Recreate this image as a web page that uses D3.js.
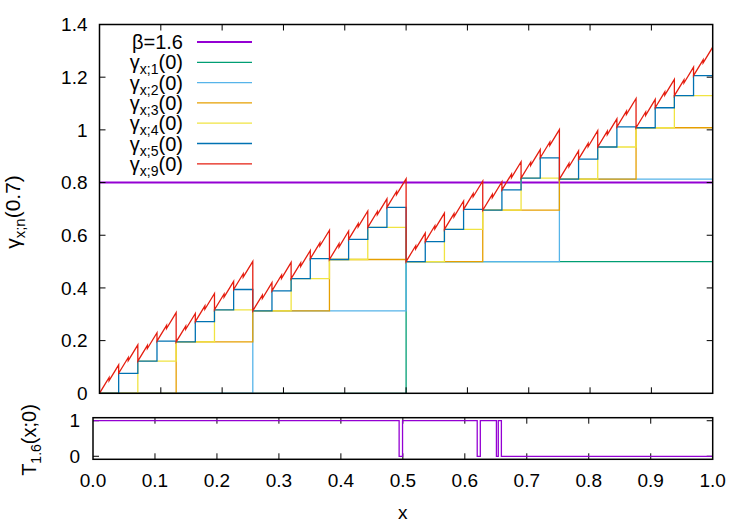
<!DOCTYPE html>
<html>
<head>
<meta charset="utf-8">
<script src="https://cdn.jsdelivr.net/npm/d3@7"></script>
<style>
  body { margin: 0; background: #fff; }
  text { font-family: "Liberation Sans", Arial, sans-serif; fill: #000; }
</style>
</head>
<body>
<svg id="chart" width="750" height="525"></svg>
<script>
const width = 750;
const height = 525;

// tick labels
const xTicks = [0, 0.1, 0.2, 0.3, 0.4, 0.5, 0.6, 0.7, 0.8, 0.9, 1.0];
const yTicksTop = [0, 0.2, 0.4, 0.6, 0.8, 1.0, 1.2, 1.4];
const yTicksBottom = [0, 1];

// horizontal reference line, beta = 1.6
const betaLevel = 0.8;

// step levels of the partial sums, one value per dyadic interval
const gamma1 = [0, 0.5];
const gamma2 = [0, 0.313, 0.5, 0.813];
const gamma3 = [0, 0.195, 0.313, 0.508, 0.5, 0.695, 0.813, 1.008];
const gamma4 = [0, 0.122, 0.195, 0.317, 0.313, 0.435, 0.508, 0.630,
  0.5, 0.622, 0.695, 0.817, 0.813, 0.935, 1.008, 1.130];
const gamma5 = [0, 0.076, 0.122, 0.198, 0.195, 0.272, 0.317, 0.394,
  0.313, 0.389, 0.435, 0.511, 0.508, 0.584, 0.630, 0.706,
  0.5, 0.576, 0.622, 0.698, 0.695, 0.772, 0.817, 0.894,
  0.813, 0.889, 0.935, 1.011, 1.008, 1.084, 1.130, 1.206];

// n = 9 curve, read per 1/64 interval: value at start and at end
const gamma9Start = [0.000, 0.048, 0.076, 0.124, 0.122, 0.170, 0.198, 0.246,
  0.195, 0.243, 0.272, 0.319, 0.317, 0.365, 0.394, 0.441,
  0.313, 0.360, 0.389, 0.436, 0.435, 0.482, 0.511, 0.559,
  0.508, 0.555, 0.584, 0.632, 0.630, 0.678, 0.706, 0.754,
  0.500, 0.548, 0.576, 0.624, 0.622, 0.670, 0.698, 0.746,
  0.695, 0.743, 0.772, 0.819, 0.817, 0.865, 0.894, 0.941,
  0.813, 0.860, 0.889, 0.936, 0.935, 0.982, 1.011, 1.059,
  1.008, 1.055, 1.084, 1.132, 1.130, 1.178, 1.206, 1.254];
const gamma9End = [0.060, 0.108, 0.136, 0.184, 0.182, 0.230, 0.258, 0.306,
  0.255, 0.303, 0.332, 0.379, 0.377, 0.425, 0.454, 0.501,
  0.373, 0.420, 0.449, 0.497, 0.495, 0.542, 0.571, 0.619,
  0.568, 0.616, 0.644, 0.692, 0.690, 0.738, 0.766, 0.814,
  0.560, 0.608, 0.636, 0.684, 0.682, 0.730, 0.758, 0.806,
  0.755, 0.803, 0.832, 0.879, 0.877, 0.925, 0.954, 1.001,
  0.873, 0.920, 0.949, 0.997, 0.995, 1.042, 1.071, 1.119,
  1.068, 1.116, 1.144, 1.192, 1.190, 1.238, 1.266, 1.314];

// T_1.6(x;0): switch points and values after each switch
const tBreaks = [0, 0.494, 0.4995, 0.620, 0.625, 0.651, 0.654, 0.659, 1.0];
const tValues = [1, 0, 1, 0, 1, 0, 1, 0, 0];

const colors = {
  beta: "#9400d3",
  g1: "#009e73",
  g2: "#56b4e9",
  g3: "#e69f00",
  g4: "#f0e442",
  g5: "#0072b2",
  g9: "#e51e10"
};

const svg = d3.select("#chart");

// top panel
const xTop = d3.scaleLinear().domain([0, 1]).range([99.5, 712.7]);
const yTop = d3.scaleLinear().domain([0, 1.4]).range([393.3, 24.5]);
// bottom panel
const xBot = d3.scaleLinear().domain([0, 1]).range([93, 712.7]);
const yBot = d3.scaleLinear().domain([-0.085, 1.085]).range([459.3, 417.7]);

function stairs(levels) {
  const n = levels.length;
  const pts = levels.map((v, i) => [i / n, v]);
  pts.push([1, levels[n - 1]]);
  return pts;
}

const stepLine = d3.line()
  .x(d => xTop(d[0]))
  .y(d => yTop(d[1]))
  .curve(d3.curveStepAfter);

svg.append("clipPath").attr("id", "clip-top")
  .append("rect")
  .attr("x", xTop(0)).attr("y", yTop(1.4))
  .attr("width", xTop(1) - xTop(0)).attr("height", yTop(0) - yTop(1.4));

const plot = svg.append("g").attr("clip-path", "url(#clip-top)");

plot.append("line")
  .attr("x1", xTop(0)).attr("x2", xTop(1))
  .attr("y1", yTop(betaLevel)).attr("y2", yTop(betaLevel))
  .attr("stroke", colors.beta)
  .attr("stroke-width", 2);

const stairSeries = [
  { key: "g1", data: gamma1 },
  { key: "g2", data: gamma2 },
  { key: "g3", data: gamma3 },
  { key: "g4", data: gamma4 },
  { key: "g5", data: gamma5 }
];

stairSeries.forEach(s => {
  plot.append("path")
    .attr("d", stepLine(stairs(s.data)))
    .attr("fill", "none")
    .attr("stroke", colors[s.key])
    .attr("stroke-width", 1.3);
});

const redPts = [];
gamma9Start.forEach((v, k) => {
  redPts.push([k / 64, v]);
  redPts.push([(k + 1) / 64, gamma9End[k]]);
});
plot.append("path")
  .attr("d", d3.line().x(d => xTop(d[0])).y(d => yTop(d[1]))(redPts))
  .attr("fill", "none")
  .attr("stroke", colors.g9)
  .attr("stroke-width", 1.3);

// top frame and ticks
svg.append("rect")
  .attr("x", xTop(0)).attr("y", yTop(1.4))
  .attr("width", xTop(1) - xTop(0)).attr("height", yTop(0) - yTop(1.4))
  .attr("fill", "none").attr("stroke", "#000").attr("stroke-width", 1.5);

const tickLen = 6;
const ticksG = svg.append("g").attr("stroke", "#000").attr("stroke-width", 1);
xTicks.slice(1, -1).forEach(t => {
  ticksG.append("line").attr("x1", xTop(t)).attr("x2", xTop(t))
    .attr("y1", yTop(0)).attr("y2", yTop(0) - tickLen);
  ticksG.append("line").attr("x1", xTop(t)).attr("x2", xTop(t))
    .attr("y1", yTop(1.4)).attr("y2", yTop(1.4) + tickLen);
});
yTicksTop.slice(1, -1).forEach(t => {
  ticksG.append("line").attr("x1", xTop(0)).attr("x2", xTop(0) + tickLen)
    .attr("y1", yTop(t)).attr("y2", yTop(t));
  ticksG.append("line").attr("x1", xTop(1)).attr("x2", xTop(1) - tickLen)
    .attr("y1", yTop(t)).attr("y2", yTop(t));
});

svg.append("g").selectAll("text")
  .data(yTicksTop)
  .join("text")
  .attr("x", xTop(0) - 12)
  .attr("y", d => yTop(d))
  .attr("dy", "0.35em")
  .attr("text-anchor", "end")
  .attr("font-size", 19)
  .text(d => d === 0 || d === 1 ? String(d) : d3.format(".1f")(d));

// legend
const legendRows = [
  { key: "beta", label: "β=1.6" },
  { key: "g1", sub: "x;1" },
  { key: "g2", sub: "x;2" },
  { key: "g3", sub: "x;3" },
  { key: "g4", sub: "x;4" },
  { key: "g5", sub: "x;5" },
  { key: "g9", sub: "x;9" }
];
const legend = svg.append("g");
legendRows.forEach((r, i) => {
  const y = 42 + i * 20.3;
  const t = legend.append("text")
    .attr("x", 183).attr("y", y).attr("dy", "0.35em")
    .attr("text-anchor", "end")
    .attr("font-size", 20);
  if (r.label) {
    t.text(r.label);
  } else {
    t.append("tspan").text("γ");
    t.append("tspan").attr("font-size", 14).attr("dy", 5).text(r.sub);
    t.append("tspan").attr("dy", -5).text("(0)");
  }
  legend.append("line")
    .attr("x1", 197).attr("x2", 252)
    .attr("y1", y).attr("y2", y)
    .attr("stroke", colors[r.key])
    .attr("stroke-width", r.key === "beta" ? 2 : 1.3);
});

// y label of the top panel
const yLab = svg.append("text")
  .attr("transform", `translate(20,212) rotate(-90)`)
  .attr("text-anchor", "middle")
  .attr("font-size", 21);
yLab.append("tspan").text("γ");
yLab.append("tspan").attr("font-size", 15).attr("dy", 5).text("x;n");
yLab.append("tspan").attr("dy", -5).text("(0.7)");

// bottom panel
const tPts = tBreaks.map((b, i) => [b, tValues[i]]);
svg.append("path")
  .attr("d", d3.line().x(d => xBot(d[0])).y(d => yBot(d[1])).curve(d3.curveStepAfter)(tPts))
  .attr("fill", "none")
  .attr("stroke", colors.beta)
  .attr("stroke-width", 1.3);

svg.append("rect")
  .attr("x", xBot(0)).attr("y", yBot(1.085))
  .attr("width", xBot(1) - xBot(0)).attr("height", yBot(-0.085) - yBot(1.085))
  .attr("fill", "none").attr("stroke", "#000").attr("stroke-width", 1.5);

xTicks.slice(1, -1).forEach(t => {
  ticksG.append("line").attr("x1", xBot(t)).attr("x2", xBot(t))
    .attr("y1", yBot(-0.085)).attr("y2", yBot(-0.085) - tickLen);
  ticksG.append("line").attr("x1", xBot(t)).attr("x2", xBot(t))
    .attr("y1", yBot(1.085)).attr("y2", yBot(1.085) + tickLen);
});
yTicksBottom.forEach(t => {
  ticksG.append("line").attr("x1", xBot(0)).attr("x2", xBot(0) + tickLen)
    .attr("y1", yBot(t)).attr("y2", yBot(t));
  ticksG.append("line").attr("x1", xBot(1)).attr("x2", xBot(1) - tickLen)
    .attr("y1", yBot(t)).attr("y2", yBot(t));
});

svg.append("g").selectAll("text")
  .data(yTicksBottom)
  .join("text")
  .attr("x", xBot(0) - 13)
  .attr("y", d => yBot(d))
  .attr("dy", "0.35em")
  .attr("text-anchor", "end")
  .attr("font-size", 19)
  .text(d => d);

svg.append("g").selectAll("text")
  .data(xTicks)
  .join("text")
  .attr("x", d => xBot(d))
  .attr("y", 480)
  .attr("dy", "0.35em")
  .attr("text-anchor", "middle")
  .attr("font-size", 19)
  .text(d => d3.format(".1f")(d));

svg.append("text")
  .attr("x", (xBot(0) + xBot(1)) / 2)
  .attr("y", 512)
  .attr("dy", "0.35em")
  .attr("text-anchor", "middle")
  .attr("font-size", 19)
  .text("x");

const tLab = svg.append("text")
  .attr("transform", `translate(36,440) rotate(-90)`)
  .attr("text-anchor", "middle")
  .attr("font-size", 20);
tLab.append("tspan").text("T");
tLab.append("tspan").attr("font-size", 14).attr("dy", 5).text("1.6");
tLab.append("tspan").attr("dy", -5).text("(x;0)");
</script>
</body>
</html>
